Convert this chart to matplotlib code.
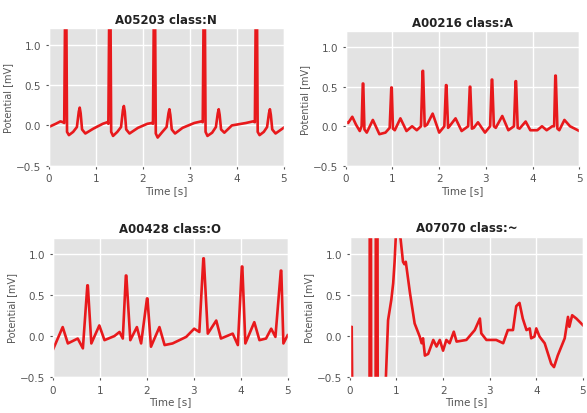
import matplotlib
matplotlib.use('Agg')
import matplotlib.pyplot as plt

plt.style.use('ggplot')

# ECG traces: (time [s], potential [mV]) key points
t_a05203 = [0.0, 0.15, 0.25, 0.30, 0.33, 0.355, 0.37, 0.39, 0.43, 0.52, 0.60, 0.64, 0.66, 0.68, 0.71, 0.78, 0.95,
            1.15, 1.25, 1.27, 1.295, 1.31, 1.33, 1.37, 1.46, 1.54, 1.58, 1.60, 1.62, 1.65, 1.72, 1.90,
            2.10, 2.20, 2.22, 2.245, 2.26, 2.28, 2.32, 2.42, 2.51, 2.55, 2.57, 2.59, 2.62, 2.69, 2.85,
            3.10, 3.25, 3.28, 3.305, 3.32, 3.34, 3.38, 3.48, 3.56, 3.60, 3.62, 3.64, 3.67, 3.74, 3.90,
            4.20, 4.35, 4.39, 4.415, 4.43, 4.45, 4.49, 4.58, 4.65, 4.69, 4.71, 4.73, 4.76, 4.83, 5.0]
v_a05203 = [-0.02, 0.02, 0.05, 0.04, 0.03, 1.9, 1.9, -0.08, -0.12, -0.08, -0.02, 0.17, 0.22, 0.15, -0.05, -0.10, -0.04,
            0.02, 0.04, 0.02, 1.9, 1.9, -0.08, -0.13, -0.08, -0.02, 0.19, 0.24, 0.17, -0.05, -0.10, -0.03,
            0.02, 0.03, 0.02, 1.9, 1.9, -0.10, -0.15, -0.08, -0.02, 0.15, 0.20, 0.13, -0.05, -0.10, -0.03,
            0.03, 0.05, 0.04, 1.9, 1.9, -0.08, -0.13, -0.09, -0.02, 0.15, 0.20, 0.13, -0.05, -0.09, 0.0,
            0.03, 0.05, 0.04, 1.9, 1.9, -0.08, -0.12, -0.08, -0.02, 0.15, 0.20, 0.13, -0.05, -0.10, -0.03]

t_a00216 = [0.0, 0.05, 0.14, 0.22, 0.30, 0.34, 0.365, 0.375, 0.40, 0.45, 0.58, 0.72, 0.85, 0.94, 0.975, 0.985, 1.01,
            1.05, 1.17, 1.30, 1.42, 1.52, 1.61, 1.645, 1.655, 1.69, 1.74, 1.86, 2.00, 2.11, 2.145, 2.155, 2.19,
            2.22, 2.35, 2.48, 2.62, 2.655, 2.665, 2.70, 2.74, 2.83, 2.98, 3.09, 3.125, 3.135, 3.17, 3.21, 3.35,
            3.48, 3.60, 3.635, 3.645, 3.68, 3.72, 3.85, 3.95, 4.10, 4.20, 4.30, 4.42, 4.46, 4.485, 4.495, 4.53,
            4.57, 4.68, 4.80, 4.90, 5.0]
v_a00216 = [0.06, 0.04, 0.12, 0.02, -0.06, 0.0, 0.54, 0.54, -0.04, -0.08, 0.08, -0.10, -0.08, -0.02, 0.49, 0.49, -0.03,
            -0.05, 0.10, -0.06, 0.0, -0.05, 0.0, 0.70, 0.70, 0.0, 0.02, 0.16, -0.08, 0.0, 0.52, 0.52, -0.02,
            0.0, 0.10, -0.06, 0.0, 0.50, 0.50, -0.03, -0.02, 0.05, -0.08, 0.0, 0.59, 0.59, 0.0, -0.02, 0.13,
            -0.05, 0.0, 0.57, 0.57, -0.02, -0.03, 0.06, -0.05, -0.05, 0.0, -0.05, 0.0, 0.0, 0.64, 0.64, -0.03,
            -0.05, 0.08, 0.0, -0.03, -0.06]

t_a00428 = [0.0, 0.21, 0.32, 0.53, 0.64, 0.735, 0.745, 0.82, 0.99, 1.10, 1.31, 1.42, 1.49, 1.555, 1.565, 1.65,
            1.79, 1.88, 2.005, 2.015, 2.09, 2.27, 2.38, 2.55, 2.84, 3.01, 3.12, 3.205, 3.215, 3.30, 3.48, 3.58,
            3.83, 3.94, 4.025, 4.035, 4.10, 4.29, 4.40, 4.54, 4.65, 4.74, 4.855, 4.865, 4.91, 5.0]
v_a00428 = [-0.17, 0.11, -0.09, -0.03, -0.15, 0.62, 0.62, -0.09, 0.13, -0.05, 0.0, 0.05, -0.03, 0.74, 0.74, -0.05,
            0.11, -0.09, 0.46, 0.46, -0.13, 0.11, -0.11, -0.09, -0.01, 0.09, 0.05, 0.95, 0.95, 0.03, 0.19, -0.03,
            0.03, -0.11, 0.85, 0.85, -0.09, 0.17, -0.05, -0.03, 0.09, -0.01, 0.80, 0.80, -0.09, 0.01]

t_a07070 = [0.0, 0.02, 0.04, 0.07, 0.42, 0.43, 0.45, 0.46, 0.55, 0.56, 0.59, 0.60, 0.74, 0.82,
            0.89, 0.93, 0.96, 0.99, 1.05, 1.09, 1.14, 1.17, 1.20, 1.29, 1.39, 1.50, 1.54, 1.57,
            1.61, 1.68, 1.79, 1.86, 1.93, 2.00, 2.07, 2.14, 2.23, 2.29, 2.50, 2.68, 2.79, 2.82,
            2.93, 3.14, 3.29, 3.39, 3.50, 3.57, 3.64, 3.71, 3.79, 3.86, 3.89, 3.96, 4.00, 4.07,
            4.18, 4.32, 4.38, 4.46, 4.61, 4.68, 4.71, 4.77, 4.86, 5.0]
v_a07070 = [-0.30, -0.18, 0.11, -2.0, -2.0, 3.0, 3.0, -2.0, -2.0, 3.0, 3.0, -2.0, -1.0, 0.19,
            0.44, 0.64, 0.90, 1.25, 1.30, 1.17, 0.90, 0.87, 0.90, 0.52, 0.15, -0.01, -0.09, -0.03,
            -0.24, -0.22, -0.05, -0.13, -0.05, -0.18, -0.05, -0.09, 0.05, -0.07, -0.05, 0.07, 0.21, 0.03,
            -0.05, -0.05, -0.09, 0.07, 0.07, 0.36, 0.40, 0.21, 0.07, 0.09, -0.03, -0.01, 0.09, -0.01,
            -0.09, -0.34, -0.38, -0.24, -0.03, 0.23, 0.11, 0.25, 0.21, 0.13]

titles = ['A05203 class:N', 'A00216 class:A', 'A00428 class:O', 'A07070 class:~']
traces = [(t_a05203, v_a05203), (t_a00216, v_a00216), (t_a00428, v_a00428), (t_a07070, v_a07070)]

# axes boxes [left, bottom, width, height] in figure fractions
boxes = [[0.083, 0.597, 0.400, 0.332],
         [0.589, 0.597, 0.398, 0.325],
         [0.090, 0.087, 0.400, 0.336],
         [0.596, 0.087, 0.397, 0.338]]

fig = plt.figure(figsize=(5.87, 4.14), dpi=100)
fig.patch.set_facecolor('white')

for box, titulo, (t, v) in zip(boxes, titles, traces):
    ax = fig.add_axes(box)
    ax.plot(t, v, color='#e8191c', linewidth=1.9, solid_joinstyle='round')
    ax.set_xlim(0, 5)
    ax.set_ylim(-0.5, 1.2)
    ax.set_xticks([0, 1, 2, 3, 4, 5])
    ax.set_yticks([-0.5, 0.0, 0.5, 1.0])
    ax.set_facecolor('#e3e3e3')
    ax.grid(True, color='white', linewidth=1.0)
    ax.tick_params(labelsize=7.5, colors='#555555', length=2)
    ax.set_title(titulo, fontsize=8.5, fontweight='bold', color='#222222', pad=4)
    ax.set_xlabel('Time [s]', fontsize=7.5, color='#555555', labelpad=1)
    ax.set_ylabel('Potential [mV]', fontsize=7, color='#555555', labelpad=2)

fig.savefig('out.png', dpi=100)
